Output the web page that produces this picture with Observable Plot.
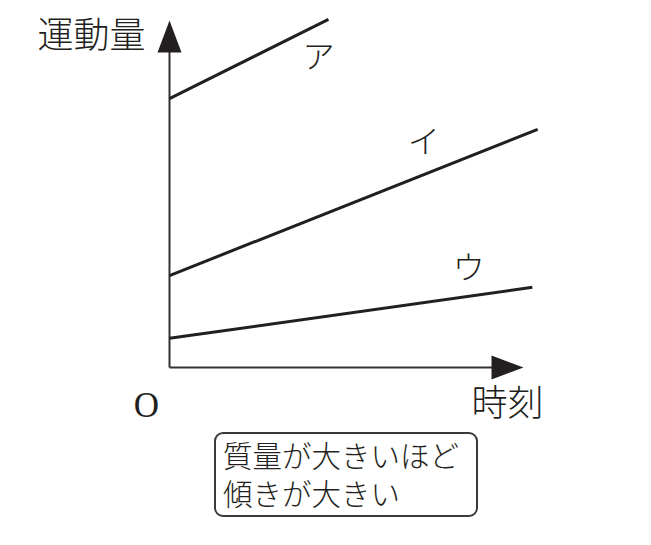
<!DOCTYPE html>
<html><head><meta charset="utf-8">
<script src="https://cdn.jsdelivr.net/npm/d3@7"></script>
<script src="https://cdn.jsdelivr.net/npm/@observablehq/plot@0.6"></script>
<style>
body{margin:0;background:#fff;}
#wrap{position:relative;width:651px;height:545px;}
#note{position:absolute;left:214px;top:432px;width:264px;height:85px;border:2px solid #3a3a3a;border-radius:9px;box-sizing:border-box;}
#note div{position:absolute;left:7px;white-space:nowrap;font-family:"Liberation Sans","Noto Sans CJK JP",sans-serif;font-weight:300;font-size:29.5px;line-height:34px;height:34px;color:#231f20;}
</style></head>
<body>
<div id="wrap"><div id="chart"></div><div id="note"></div></div>
<script>
const series = ["ア", "イ", "ウ"];
const startMomentum = [7.75, 2.65, 0.84];
const endTime = [4.49, 10.40, 10.25];
const endMomentum = [10.03, 6.86, 2.31];
const labelTime = [4.21, 7.18, 8.45];
const labelMomentum = [8.93, 6.48, 2.85];
const axisLabels = ["運動量", "時刻"];
const axisLabelTime = [-2.2, 9.55];
const axisLabelMomentum = [9.54, -1.07];
const originLabel = "O";
const originTime = -0.65;
const originMomentum = -1.10;
const noteLines = ["質量が大きいほど", "傾きが大きい"];

const lines = series.map((s, i) => ({s, x1: 0, y1: startMomentum[i], x2: endTime[i], y2: endMomentum[i]}));
const labels = series.map((s, i) => ({s, x: labelTime[i], y: labelMomentum[i]}));
const axisText = axisLabels.map((t, i) => ({t, x: axisLabelTime[i], y: axisLabelMomentum[i]}));

const arrowHead = {draw(ctx) { ctx.moveTo(0, 0); ctx.lineTo(12, 32); ctx.lineTo(-12, 32); ctx.closePath(); }};

const chart = Plot.plot({
  width: 651, height: 545,
  marginLeft: 169, marginRight: 128, marginTop: 20, marginBottom: 178,
  x: {domain: [0, 10], axis: null},
  y: {domain: [0, 10], axis: null},
  marks: [
    Plot.link([{x1: 0, y1: 0, x2: 0, y2: 9.5}], {x1: "x1", y1: "y1", x2: "x2", y2: "y2", stroke: "#333", strokeWidth: 2}),
    Plot.link([{x1: 0, y1: 0, x2: 9.5, y2: 0}], {x1: "x1", y1: "y1", x2: "x2", y2: "y2", stroke: "#333", strokeWidth: 2}),
    Plot.dot([{x: 0, y: 10}], {x: "x", y: "y", symbol: arrowHead, fill: "#231f20", stroke: "none"}),
    Plot.dot([{x: 10, y: 0}], {x: "x", y: "y", symbol: arrowHead, fill: "#231f20", stroke: "none", rotate: 90}),
    Plot.link(lines, {x1: "x1", y1: "y1", x2: "x2", y2: "y2", stroke: "#231f20", strokeWidth: 3}),
    Plot.text(labels, {x: "x", y: "y", text: "s", fontSize: 32, fill: "#231f20", fontFamily: "Noto Sans CJK JP", fontWeight: 300}),
    Plot.text(axisText, {x: "x", y: "y", text: "t", fontSize: 36, fill: "#231f20", fontFamily: "Noto Sans CJK JP", fontWeight: 300}),
    Plot.text([{t: originLabel, x: originTime, y: originMomentum}], {x: "x", y: "y", text: "t", fontSize: 35, fill: "#231f20", fontFamily: "Liberation Serif"})
  ]
});
document.getElementById("chart").appendChild(chart);
document.getElementById("note").innerHTML = noteLines.map((l, i) => `<div style="top:${6 + i * 38}px">${l}</div>`).join("");
</script>
</body></html>
